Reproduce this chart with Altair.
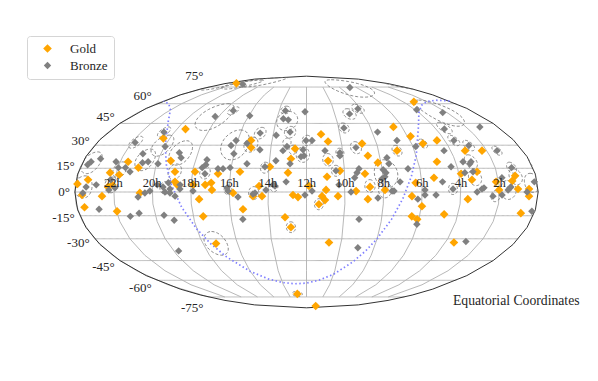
import numpy as np
import pandas as pd
import altair as alt

# right ascension (degrees) and declination (degrees)
gold_ra = [292,305.5,289.5,323.6,313.6,334.8,327.2,350.7,358.4,354.5,339,354,329.3,334.3,331.2,309.5,283.8,282.6,280.7,268.2,
           228.1,226.6,249.6,232.5,268,258.9,254.3,253.5,263.6,237.1,229.9,262.1,216.9,214.6,221.6,209.1,194.6,192.6,189.6,190.5,186.6,197.1,192.7,178.1,258.5,195,140,160.6,
           167,161.4,132.5,129.8,104.7,80.4,162.6,122.7,153.5,134,163.9,164.8,167.9,165.6,170.3,155.5,141.5,130.6,119,132.2,98,89.6,96.3,91.5,94.9,80.2,98.4,47.2,87.8,
           66.8,48.1,34,75,58.4,45.4,50.7,16.3,19.4,32.1,30.3,15.6,7,7,54.4,71,10.6,52.7,337]
gold_dec = [41,34.6,19.8,19.2,15.4,12.2,10.9,7.7,5.1,-1.9,-2.6,-9.6,-12.2,3.2,4.5,-0.6,12.8,6.4,4.5,4.5,
            33.2,28.4,11.5,12.8,12.8,4.5,5.8,1.3,-4.5,-0.6,-10.9,-15.4,3.8,-2.6,-2.6,16,12.2,21.1,27.7,-1.9,-3.2,-16,-22.4,3.8,-33.2,-72,-86,-32.5,
            37.4,32.5,31.1,23.1,26.4,31.1,19.8,18.6,13.4,11.5,9.6,1.3,-2.6,-5.1,-7.7,-2.6,0.6,3.2,1.3,-4.5,-2.6,-9,-15.4,-17.3,5.8,9,42.5,61.5,36,
            33.2,26.4,26.4,19.2,11.5,12.8,7.7,10.2,7,6.4,1.3,1.9,1.9,-2.6,-4.5,-14.1,-13.4,-32.5,79]
bronze_ra = [327.3,314.7,307.5,311.7,347,353.4,355,333.3,329.5,323.9,319.3,299,285,282,351.4,353.8,343.7,311,301.7,305.6,296.2,291.6,290,286.1,287.7,282.2,343,320,312.3,293,286,328.9,333.6,332.8,286.1,278.4,278.4,309.5,299.4,295.4,233.3,230.9,
             221.8,241.1,244,230.9,218.9,239.8,207,194.9,196.5,199.6,180.4,182.9,182,184.5,193.2,204.7,227.7,260.5,260.5,262.9,259.9,250.2,246.2,240.7,268.2,241.8,241,220,221.6,211.5,206,204.5,213.1,195.9,181.2,
             175.2,164.6,152.4,152.7,138.4,115.5,101.5,114.6,114,87.7,99.5,138.4,140.2,156.7,119.3,117.4,118.6,121,107,154.7,145.4,124.4,113.5,112,93.3,87.9,87.9,138,90.7,175.7,142.3,134.5,
             273.5,259.9,238.6,203,181.6,203.2,198.1,102,134.7,122.5,145.1,315,58.4,34.6,52.4,17.2,52.1,42.3,21.5,65.6,54,47.6,49.1,64.9,17,73.9,79.3,66.1,48.6,55.2,35,28,27,42,43.6,47.4,21.8,23.3,21,8.6,2.3,2.4,43]
bronze_dec = [31.8,24.4,19.2,18.6,21.1,19.2,17.3,19.2,15.4,15.4,12.8,17.9,25,21.8,3.2,-0.6,4.5,-3.2,0.6,-0.6,4.5,3.2,0,1.9,5.8,-2.6,-10.9,-15.4,-13.4,-14.7,-17.9,2.6,1.3,7.7,-0.6,1.9,4.5,38.9,29.1,-38.2,-3.2,-17.3,
              38.2,33.2,29.8,31.1,27,24.4,36.7,38.9,29.1,26.4,33.2,27,23.1,22.4,17.9,19.8,17.9,20.5,17.3,15.4,11.5,14.7,14.7,15.4,0.6,2.6,0.6,-0.6,-1.3,1.3,4.5,3.8,16,6.4,-1.9,
              33.2,26.4,25,23.1,28.4,38.9,33.2,21.8,17.9,29.1,14.7,14.7,12.2,13.4,14.1,12.2,9.6,8.3,6.4,4.5,0,-3.8,0.6,0.6,-4.5,1.3,-1.9,-17.3,-20.5,0.6,9,-36,
              50,54.5,50.6,54.5,53.7,48.4,47.6,74.5,52,56,41.8,78,55.2,53,41,42.5,33.2,29.8,26.4,26.4,19.2,19.2,17.9,16,15.4,6.4,-1.9,1.9,12.8,12.2,-2.6,-1.9,9,2.6,1.9,0,2.6,1.3,3.2,0,6.4,-12.2,-31.8]

# localisation regions: centre and angular radius (degrees)
region_ra = [327,309.5,302.4,284,310.6,353,327.9,284,353.8,332,290,240.9,221.8,194.9,227.3,260,213,183,179.5,191.3,196.8,192.7,241,221,205.3,203,199,259.9,274.5,102,134.7,122.5,145,117.4,130.6,138.4,162.6,119,156.7,170.3,152.4,104.7,80.4,37,51.3,52.1,42.3,21.5,17,47.6,16,48,66.1,4,33,23,258.5,195,317,296,351]
region_dec = [32,39,29.8,25,20.5,18.6,14.1,12.8,3.2,4.5,2.6,30.4,38.2,38.9,30.4,12.2,15.4,23.8,33.2,27,31.8,-22.4,1.3,-0.6,3.2,55,46.9,54.5,50,74.5,52,56,41.8,11.5,3.8,28.4,20.5,1.3,13.4,-7.7,25,26.4,31.1,53,41.8,33.2,29.8,26.4,15.4,19.2,9.6,9,1.9,5.8,-2.6,1.3,-33.2,-72,78,81,76]
region_r = [4,3.5,7,8,7,7,5,5,7,5,4,10,4,4,5,4,3.5,5,3.5,3,3,3.5,3,4,3,3,7,3,10,9,4,3.5,3.5,9,4,4,4,5,3.5,3.5,3,3.5,3,10,4,3.5,3.5,3,3.5,4.5,5,5,3.5,6,3.5,6,8,2.5,5,6,4]

# galactic plane
plane_ra = [0,15,30,45,60,75,90,105,120,135,150,165,180,195,210,225,240,255,270,285,300,315,330,345,360]
plane_dec = [62.3,62.9,61.8,58.8,53,42.4,23.5,-4.2,-29.9,-46.1,-55.1,-59.9,-62.3,-62.9,-61.8,-58.8,-53,-42.4,-23.5,4.2,29.9,46.1,55.1,59.9,62.3]

hour_labels = ["22h","20h","18h","16h","14h","12h","10h","8h","6h","4h","2h"]
hour_lons = [-150,-120,-90,-60,-30,0,30,60,90,120,150]
lat_ticks = [75,60,45,30,15,0,-15,-30,-45,-60,-75]
footer = "Equatorial Coordinates"
FONT = "Liberation Serif"
TEXT = "#262626"


def circle_line(ra, dec, r):
    lon0, lat0, d = np.radians(180 - ra), np.radians(dec), np.radians(r)
    b = np.linspace(0, 2 * np.pi, 49)
    lat = np.arcsin(np.sin(lat0) * np.cos(d) + np.cos(lat0) * np.sin(d) * np.cos(b))
    lon = lon0 + np.arctan2(np.sin(b) * np.sin(d) * np.cos(lat0), np.cos(d) - np.sin(lat0) * np.sin(lat))
    return [[float(a), float(c)] for a, c in zip(np.degrees(lon), np.degrees(lat))]


def geo(lines):
    feats = [{"type": "Feature", "properties": {}, "geometry": {"type": "LineString", "coordinates": c}} for c in lines]
    return alt.InlineData(values={"type": "FeatureCollection", "features": feats},
                          format=alt.DataFormat(type="json", property="features"))


regions = geo([circle_line(*t) for t in zip(region_ra, region_dec, region_r)])
plane = geo([[[180 - a, d] for a, d in zip(plane_ra, plane_dec)]])

pts = pd.DataFrame({
    "medal": ["Gold"] * len(gold_ra) + ["Bronze"] * len(bronze_ra),
    "lon": [180 - v for v in gold_ra + bronze_ra],
    "lat": gold_dec + bronze_dec,
})

grat = alt.Chart(alt.graticule(extentMajor=[[-180, -75], [180, 75.01]], extentMinor=[[-180, -75], [180, 75.01]],
                               stepMajor=[30, 15], stepMinor=[30, 15], precision=1)).mark_geoshape(
    filled=False, stroke="#b0b0b0", strokeWidth=0.9)
outline = alt.Chart(alt.sphere()).mark_geoshape(filled=False, stroke="#333333", strokeWidth=1)
reg = alt.Chart(regions).mark_geoshape(filled=False, stroke="#6f6f6f", strokeWidth=0.8, strokeDash=[3, 2])
gal = alt.Chart(plane).mark_geoshape(filled=False, stroke="#8080ff", strokeWidth=1.7, strokeDash=[1.5, 2.5])

points = alt.Chart(pts).mark_point(shape="diamond", filled=True, opacity=1).encode(
    longitude="lon:Q", latitude="lat:Q",
    color=alt.Color("medal:N", scale=alt.Scale(domain=["Gold", "Bronze"], range=["#ffa500", "#808080"]),
                    legend=alt.Legend(title=None, orient="none", legendX=19, legendY=28, fillColor="white",
                                      strokeColor="#d5d5d5", cornerRadius=3, padding=6, labelFont=FONT,
                                      labelFontSize=13, labelColor=TEXT, symbolOpacity=1, rowPadding=3, labelOffset=16, symbolOffset=8)),
    size=alt.Size("medal:N", scale=alt.Scale(domain=["Gold", "Bronze"], range=[75, 55]), legend=None),
)

hours = alt.Chart(pd.DataFrame({"t": hour_labels, "lon": hour_lons, "lat": [0] * len(hour_lons)})).mark_text(
    font=FONT, fontSize=12.5, color=TEXT, dy=-9).encode(longitude="lon:Q", latitude="lat:Q", text="t:N")

lat_layers = [
    alt.Chart(pd.DataFrame({"t": [f"{v}°"], "lon": [-180], "lat": [v]})).mark_text(
        font=FONT, fontSize=13, color=TEXT, align="right", dx=-5, dy=round(-v * 0.14)).encode(
        longitude="lon:Q", latitude="lat:Q", text="t:N")
    for v in lat_ticks
]
foot = alt.Chart(pd.DataFrame({"t": [footer]})).mark_text(
    font=FONT, fontSize=13.7, color=TEXT, align="left").encode(x=alt.value(445), y=alt.value(293), text="t:N")

chart = alt.layer(grat, outline, reg, gal, points, hours, *lat_layers, foot).properties(
    width=582, height=365, padding=0,
    autosize=alt.AutoSizeParams(type="none", contains="padding"),
    projection=alt.Projection(type={"expr": "'mollweide'"}, scale=81.9, translate=[298.5, 184]),
).configure_view(stroke=None)

chart.save("out.html", embed_options={"renderer": "svg", "actions": False})
